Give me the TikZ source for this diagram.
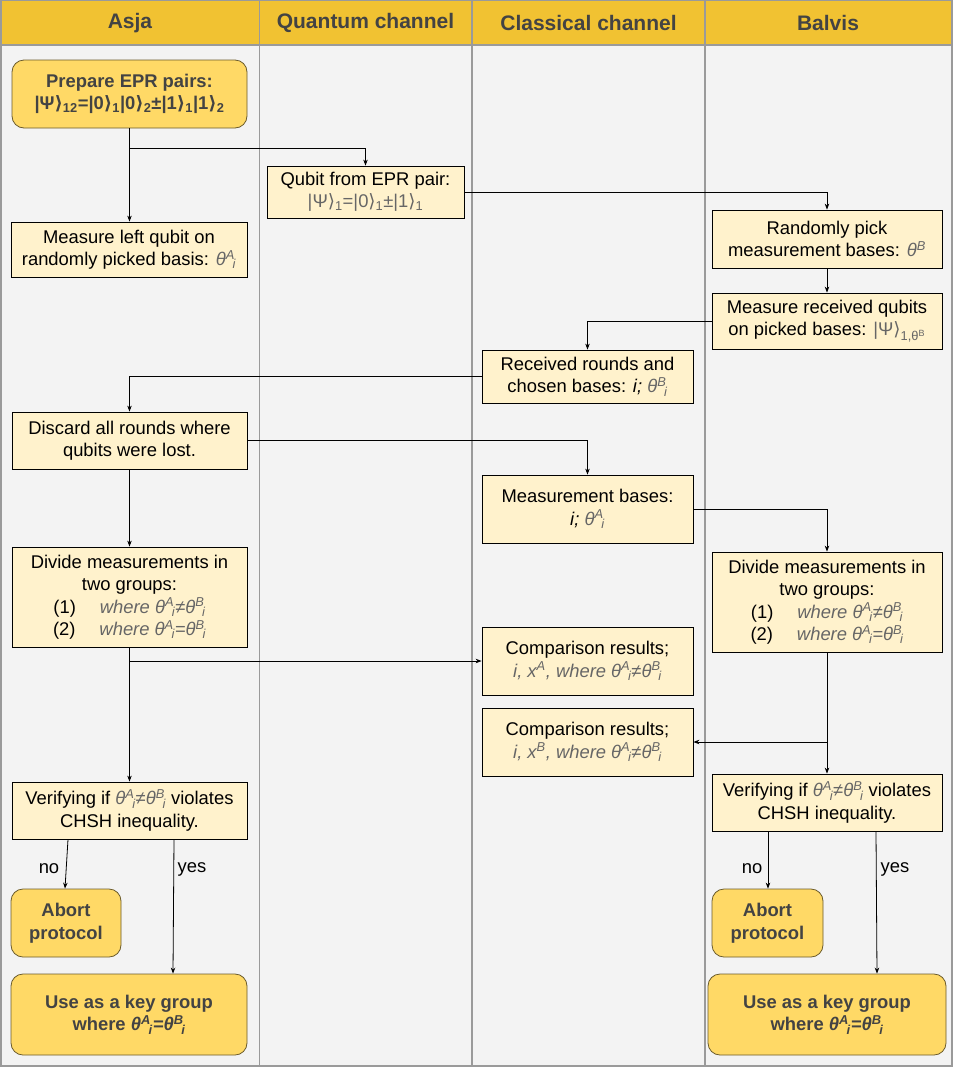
\documentclass[tikz,border=0pt]{standalone}
\usepackage{fontspec}
\setmainfont{Liberation Sans}
\newfontfamily\symfont{DejaVu Sans}
\usetikzlibrary{arrows.meta}

\definecolor{headfill}{HTML}{F1C232}
\definecolor{lanefill}{HTML}{F3F3F3}
\definecolor{laneline}{HTML}{9A9A9A}
\definecolor{procfill}{HTML}{FFF2CC}
\definecolor{termfill}{HTML}{FFD966}
\definecolor{termline}{HTML}{6B5B2B}
\definecolor{darktext}{HTML}{434343}
\definecolor{formgray}{HTML}{666666}

% ket closing bracket and indexed basis angle
\newcommand\rk{{\symfont ⟩}}
\newcommand\basis[2]{θ\textsuperscript{#1}\kern-0.12em\textsubscript{#2}}
\newcommand\frm[1]{{\color{formgray}\itshape #1}}

\tikzset{
  bodyfont/.style={font=\fontsize{18.4}{22.5}\selectfont},
  proc/.style={draw=black, fill=procfill, line width=0.8pt, inner sep=0pt,
    align=center, bodyfont, text=black},
  term/.style={draw=termline, fill=termfill, line width=0.8pt, inner sep=0pt,
    rounded corners=12pt, align=center, text=darktext,
    font=\fontsize{18.4}{22.5}\selectfont\bfseries},
  head/.style={text=darktext, font=\fontsize{21}{25}\selectfont\bfseries},
  lbl/.style={text=black, bodyfont},
  arr/.style={draw=black, line width=0.8pt, -{Stealth[length=6pt,width=4.5pt]}},
}

\begin{document}
\begin{tikzpicture}[x=1pt,y=-1pt]
\useasboundingbox (0,0) rectangle (954,1069);

% swimlanes
\fill[lanefill] (1,0) rectangle (952,1066);
\fill[headfill] (1,0) rectangle (952,45);
\draw[laneline, line width=1.5pt] (1,0) rectangle (952,1066);
\draw[laneline, line width=1.5pt] (1,45) -- (952,45);
\foreach \lx in {259.5,472,705}
  \draw[laneline, line width=1.5pt] (\lx,0) -- (\lx,1066);

\node[head] (hA) at (130,23) {Asja};
\node[head] (hQ) at (365.5,23) {Quantum channel};
\node[head] (hC) at (588.5,23) {Classical channel};
\node[head] (hB) at (828,23) {Balvis};

% steps
\node[term, minimum width=235pt, minimum height=68pt] (prep) at (129.5,94)
  {Prepare EPR pairs:\\|Ψ{\bfseries\rk}\textsubscript{12}=|0{\bfseries\rk}\textsubscript{1}|0{\bfseries\rk}\textsubscript{2}±|1{\bfseries\rk}\textsubscript{1}|1{\bfseries\rk}\textsubscript{2}};

\node[proc, minimum width=197pt, minimum height=52pt] (qubit) at (365.5,192)
  {Qubit from EPR pair:\\{\color{formgray}|Ψ\rk\textsubscript{1}=|0\rk\textsubscript{1}±|1\rk\textsubscript{1}}};

\node[proc, minimum width=236pt, minimum height=55pt] (mleft) at (129,249.5)
  {Measure left qubit on\\randomly picked basis: \frm{\basis{A}{i}}};

\node[proc, minimum width=230pt, minimum height=58pt] (rpick) at (827,239)
  {Randomly pick\\measurement bases: \frm{θ\textsuperscript{B}}};

\node[proc, minimum width=230pt, minimum height=56pt] (mrecv) at (827,321)
  {Measure received qubits\\on picked bases: {\color{formgray}|Ψ\rk\textsubscript{1,θ\textsuperscript{B}}}};

\node[proc, minimum width=211pt, minimum height=53pt] (recv) at (587.5,376.5)
  {Received rounds and\\chosen bases: {\itshape i;} \frm{\basis{B}{i}}};

\node[proc, minimum width=235pt, minimum height=57pt] (discard) at (129.5,440.5)
  {Discard all rounds where\\qubits were lost.};

\node[proc, minimum width=211pt, minimum height=68pt] (mbases) at (587.5,509)
  {Measurement bases:\\{\itshape i;} \frm{\basis{A}{i}}};

\node[proc, minimum width=235pt, minimum height=100pt] (divL) at (129.5,597)
  {Divide measurements in\\two groups:\\(1)\hspace{1.3em}\frm{where \basis{A}{i}≠\basis{B}{i}}\\(2)\hspace{1.3em}\frm{where \basis{A}{i}=\basis{B}{i}}};

\node[proc, minimum width=230pt, minimum height=100pt] (divR) at (827,602)
  {Divide measurements in\\two groups:\\(1)\hspace{1.3em}\frm{where \basis{A}{i}≠\basis{B}{i}}\\(2)\hspace{1.3em}\frm{where \basis{A}{i}=\basis{B}{i}}};

\node[proc, minimum width=211pt, minimum height=68pt] (compA) at (587.5,661)
  {Comparison results;\\\frm{i, x\textsuperscript{A}, where \basis{A}{i}≠\basis{B}{i}}};

\node[proc, minimum width=211pt, minimum height=68pt] (compB) at (587.5,742)
  {Comparison results;\\\frm{i, x\textsuperscript{B}, where \basis{A}{i}≠\basis{B}{i}}};

\node[proc, minimum width=235pt, minimum height=57pt] (verL) at (129.5,810.5)
  {Verifying if \frm{\basis{A}{i}≠\basis{B}{i}} violates\\CHSH inequality.};

\node[proc, minimum width=230pt, minimum height=57pt] (verR) at (827,802.5)
  {Verifying if \frm{\basis{A}{i}≠\basis{B}{i}} violates\\CHSH inequality.};

\node[term, minimum width=110pt, minimum height=68pt] (abortL) at (66,923)
  {Abort\\protocol};
\node[term, minimum width=111pt, minimum height=68pt] (abortR) at (767.5,923)
  {Abort\\protocol};

\node[term, minimum width=236pt, minimum height=81pt] (keyL) at (129,1014.5)
  {Use as a key group\\where {\itshape\basis{A}{i}=\basis{B}{i}}};
\node[term, minimum width=238pt, minimum height=81pt] (keyR) at (827,1014.5)
  {Use as a key group\\where {\itshape\basis{A}{i}=\basis{B}{i}}};

% flow
\coordinate (split) at (129.5,148);
\draw[arr] (prep.south) -- (prep.south |- mleft.north);
\draw[arr] (split) -| (qubit.north);
\draw[arr] (qubit.east) -| (rpick.north);
\draw[arr] (rpick) -- (mrecv);
\draw[arr] (mrecv.west) -| (recv.north);
\draw[arr] (recv.west) -| (discard.north);
\draw[arr] (discard.east) -| (mbases.north);
\draw[arr] (discard) -- (divL);
\draw[arr] (mbases.east) -| (divR.north);
\draw[arr] (divL) -- (verL);
\draw[arr] (divL.south |- compA.west) -- (compA.west);
\draw[arr] (divR) -- (verR);
\draw[arr] (divR.south |- compB.east) -- (compB.east);

\draw[arr] ([xshift=-61.5pt]verL.south) -- ([xshift=-1pt]abortL.north);
\draw[arr] ([xshift=44.5pt]verL.south) -- ([xshift=44pt]keyL.north);
\draw[arr] ([xshift=-59pt]verR.south) -- ([xshift=0.5pt]abortR.north);
\draw[arr] ([xshift=49pt]verR.south) -- ([xshift=50pt]keyR.north);

\node[lbl] (noL) at (49,869) {no};
\node[lbl] (yesL) at (192,869) {yes};
\node[lbl] (noR) at (752,869) {no};
\node[lbl] (yesR) at (895,869) {yes};
\end{tikzpicture}
\end{document}
